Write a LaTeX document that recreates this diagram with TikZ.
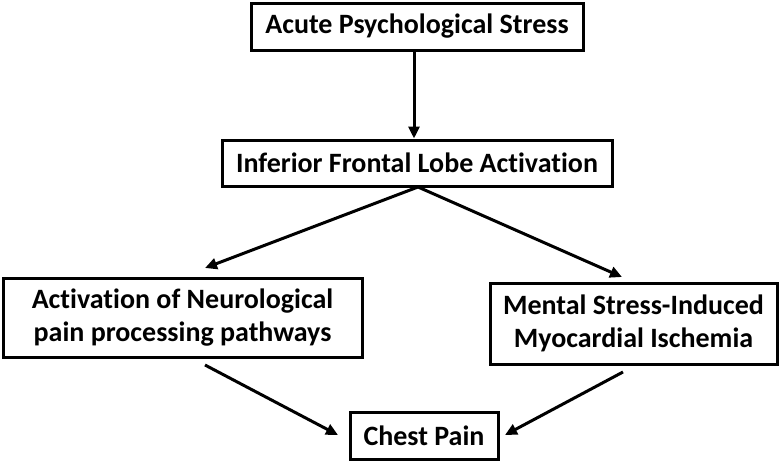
\documentclass[tikz,border=0pt]{standalone}
\usepackage{fontspec}
\setmainfont[Ligatures=CommonOff]{Carlito}
\usetikzlibrary{arrows.meta}
\begin{document}
\begin{tikzpicture}[x=1pt,y=-1pt,
  box/.style={draw, line width=3pt, align=center, inner sep=0pt, font=\bfseries\fontsize{28}{33}\selectfont},
  arr/.style={-{Triangle[length=12pt,width=11pt]}, line width=3pt}]
\useasboundingbox (0,0) rectangle (780,463);
\node[box,minimum width=332pt,minimum height=47pt] (b1) at (417,26.5) {Acute Psychological Stress};
\node[box,minimum width=390pt,minimum height=46pt] (b2) at (417,163) {Inferior Frontal Lobe Activation};
\node[box,minimum width=359pt,minimum height=79pt] (b3) at (182.5,317.5) {Activation of Neurological\\pain processing pathways};
\node[box,minimum width=287pt,minimum height=81pt] (b4) at (633.5,323.5) {Mental Stress-Induced\\Myocardial Ischemia};
\node[box,minimum width=148pt,minimum height=47pt] (b5) at (424,435.5) {Chest Pain};
\coordinate (s2) at (418,187);
\coordinate (e3) at (205,268);
\coordinate (e4) at (622,277);
\coordinate (s3) at (205,365);
\coordinate (s4) at (623,372);
\coordinate (e5l) at (338,435);
\coordinate (e5r) at (505,435);
\draw[arr] (b1.south -| 414,0) -- (b2.north -| 414,0);
\draw[arr] (s2) -- (e3);
\draw[arr] (s2) -- (e4);
\draw[arr] (s3) -- (e5l);
\draw[arr] (s4) -- (e5r);
\end{tikzpicture}
\end{document}
